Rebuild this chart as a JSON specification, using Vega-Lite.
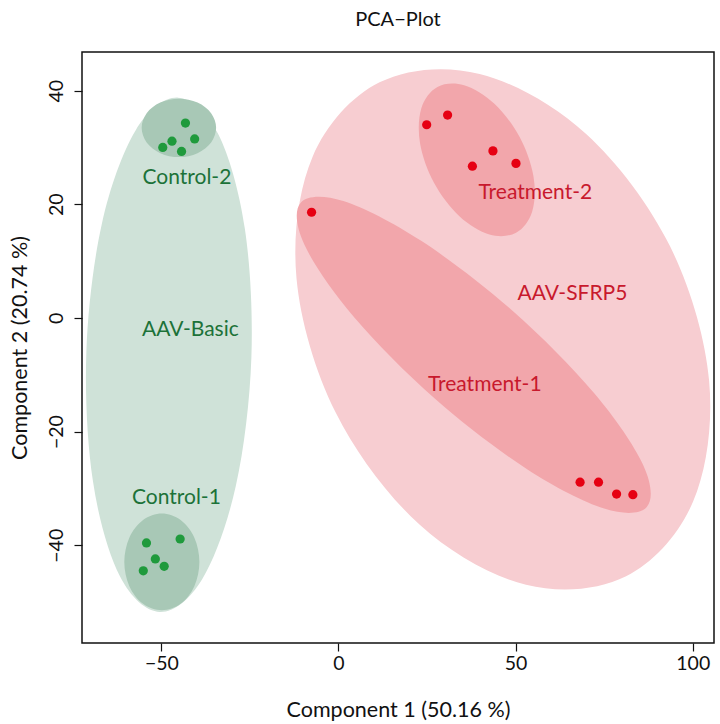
{
  "$schema": "https://vega.github.io/schema/vega-lite/v6.json",
  "width": 632,
  "height": 591,
  "autosize": {"type": "none"},
  "padding": {"left": 82, "top": 52, "right": 6, "bottom": 81},
  "config": {
    "font": "Lato",
    "view": {"stroke": "#111111", "strokeWidth": 1.5},
    "axis": {"grid": false, "domain": false, "tickColor": "#111111", "tickSize": 8, "tickWidth": 1.2, "labelColor": "#111111", "titleColor": "#111111", "labelFontSize": 19.5, "titleFontSize": 21.5, "titleFontWeight": "normal"}
  },
  "title": {"text": "PCA−Plot", "fontSize": 20, "fontWeight": "normal", "color": "#111111", "anchor": "middle", "offset": 22},
  "datasets": {
    "ellipses": [
      {"e": "AAV-Basic", "lvl": "big", "i": 0, "x": -50.42, "y": -51.73},
      {"e": "AAV-Basic", "lvl": "big", "i": 1, "x": -38.44, "y": -45.93},
      {"e": "AAV-Basic", "lvl": "big", "i": 2, "x": -28.97, "y": -29.55},
      {"e": "AAV-Basic", "lvl": "big", "i": 3, "x": -24.59, "y": -6.99},
      {"e": "AAV-Basic", "lvl": "big", "i": 4, "x": -26.43, "y": 15.70},
      {"e": "AAV-Basic", "lvl": "big", "i": 5, "x": -34.03, "y": 32.44},
      {"e": "AAV-Basic", "lvl": "big", "i": 6, "x": -45.34, "y": 38.77},
      {"e": "AAV-Basic", "lvl": "big", "i": 7, "x": -57.32, "y": 32.95},
      {"e": "AAV-Basic", "lvl": "big", "i": 8, "x": -66.79, "y": 16.58},
      {"e": "AAV-Basic", "lvl": "big", "i": 9, "x": -71.17, "y": -5.97},
      {"e": "AAV-Basic", "lvl": "big", "i": 10, "x": -69.33, "y": -28.67},
      {"e": "AAV-Basic", "lvl": "big", "i": 11, "x": -61.73, "y": -45.41},
      {"e": "AAV-SFRP5", "lvl": "big", "i": 0, "x": 81.18, "y": -45.45},
      {"e": "AAV-SFRP5", "lvl": "big", "i": 1, "x": 52.93, "y": -46.95},
      {"e": "AAV-SFRP5", "lvl": "big", "i": 2, "x": 22.94, "y": -36.40},
      {"e": "AAV-SFRP5", "lvl": "big", "i": 3, "x": -0.79, "y": -16.63},
      {"e": "AAV-SFRP5", "lvl": "big", "i": 4, "x": -11.86, "y": 7.05},
      {"e": "AAV-SFRP5", "lvl": "big", "i": 5, "x": -7.33, "y": 28.32},
      {"e": "AAV-SFRP5", "lvl": "big", "i": 6, "x": 11.59, "y": 41.46},
      {"e": "AAV-SFRP5", "lvl": "big", "i": 7, "x": 39.84, "y": 42.95},
      {"e": "AAV-SFRP5", "lvl": "big", "i": 8, "x": 69.83, "y": 32.41},
      {"e": "AAV-SFRP5", "lvl": "big", "i": 9, "x": 93.56, "y": 12.64},
      {"e": "AAV-SFRP5", "lvl": "big", "i": 10, "x": 104.62, "y": -11.05},
      {"e": "AAV-SFRP5", "lvl": "big", "i": 11, "x": 100.10, "y": -32.31},
      {"e": "Control-2", "lvl": "small", "i": 0, "x": -34.54, "y": 33.45},
      {"e": "Control-2", "lvl": "small", "i": 1, "x": -35.95, "y": 36.02},
      {"e": "Control-2", "lvl": "small", "i": 2, "x": -39.79, "y": 37.90},
      {"e": "Control-2", "lvl": "small", "i": 3, "x": -45.05, "y": 38.59},
      {"e": "Control-2", "lvl": "small", "i": 4, "x": -50.31, "y": 37.90},
      {"e": "Control-2", "lvl": "small", "i": 5, "x": -54.15, "y": 36.02},
      {"e": "Control-2", "lvl": "small", "i": 6, "x": -55.56, "y": 33.45},
      {"e": "Control-2", "lvl": "small", "i": 7, "x": -54.15, "y": 30.88},
      {"e": "Control-2", "lvl": "small", "i": 8, "x": -50.31, "y": 29.00},
      {"e": "Control-2", "lvl": "small", "i": 9, "x": -45.05, "y": 28.31},
      {"e": "Control-2", "lvl": "small", "i": 10, "x": -39.79, "y": 29.00},
      {"e": "Control-2", "lvl": "small", "i": 11, "x": -35.95, "y": 30.88},
      {"e": "Control-1", "lvl": "small", "i": 0, "x": -39.26, "y": -42.94},
      {"e": "Control-1", "lvl": "small", "i": 1, "x": -40.68, "y": -38.68},
      {"e": "Control-1", "lvl": "small", "i": 2, "x": -44.56, "y": -35.57},
      {"e": "Control-1", "lvl": "small", "i": 3, "x": -49.86, "y": -34.43},
      {"e": "Control-1", "lvl": "small", "i": 4, "x": -55.16, "y": -35.57},
      {"e": "Control-1", "lvl": "small", "i": 5, "x": -59.04, "y": -38.68},
      {"e": "Control-1", "lvl": "small", "i": 6, "x": -60.46, "y": -42.94},
      {"e": "Control-1", "lvl": "small", "i": 7, "x": -59.04, "y": -47.20},
      {"e": "Control-1", "lvl": "small", "i": 8, "x": -55.16, "y": -50.31},
      {"e": "Control-1", "lvl": "small", "i": 9, "x": -49.86, "y": -51.45},
      {"e": "Control-1", "lvl": "small", "i": 10, "x": -44.56, "y": -50.31},
      {"e": "Control-1", "lvl": "small", "i": 11, "x": -40.68, "y": -47.20},
      {"e": "Treatment-2", "lvl": "small", "i": 0, "x": 50.14, "y": 14.99},
      {"e": "Treatment-2", "lvl": "small", "i": 1, "x": 42.61, "y": 14.68},
      {"e": "Treatment-2", "lvl": "small", "i": 2, "x": 34.13, "y": 17.90},
      {"e": "Treatment-2", "lvl": "small", "i": 3, "x": 26.96, "y": 23.78},
      {"e": "Treatment-2", "lvl": "small", "i": 4, "x": 23.02, "y": 30.74},
      {"e": "Treatment-2", "lvl": "small", "i": 5, "x": 23.39, "y": 36.92},
      {"e": "Treatment-2", "lvl": "small", "i": 6, "x": 27.93, "y": 40.66},
      {"e": "Treatment-2", "lvl": "small", "i": 7, "x": 35.46, "y": 40.97},
      {"e": "Treatment-2", "lvl": "small", "i": 8, "x": 43.94, "y": 37.75},
      {"e": "Treatment-2", "lvl": "small", "i": 9, "x": 51.10, "y": 31.87},
      {"e": "Treatment-2", "lvl": "small", "i": 10, "x": 55.05, "y": 24.90},
      {"e": "Treatment-2", "lvl": "small", "i": 11, "x": 54.68, "y": 18.73},
      {"e": "Treatment-1", "lvl": "small", "i": 0, "x": 87.03, "y": -33.26},
      {"e": "Treatment-1", "lvl": "small", "i": 1, "x": 75.00, "y": -33.54},
      {"e": "Treatment-1", "lvl": "small", "i": 2, "x": 53.14, "y": -26.57},
      {"e": "Treatment-1", "lvl": "small", "i": 3, "x": 27.25, "y": -14.22},
      {"e": "Treatment-1", "lvl": "small", "i": 4, "x": 4.30, "y": 0.20},
      {"e": "Treatment-1", "lvl": "small", "i": 5, "x": -9.57, "y": 12.83},
      {"e": "Treatment-1", "lvl": "small", "i": 6, "x": -10.66, "y": 20.29},
      {"e": "Treatment-1", "lvl": "small", "i": 7, "x": 1.37, "y": 20.58},
      {"e": "Treatment-1", "lvl": "small", "i": 8, "x": 23.23, "y": 13.61},
      {"e": "Treatment-1", "lvl": "small", "i": 9, "x": 49.12, "y": 1.26},
      {"e": "Treatment-1", "lvl": "small", "i": 10, "x": 72.07, "y": -13.17},
      {"e": "Treatment-1", "lvl": "small", "i": 11, "x": 85.94, "y": -25.80}
    ],
    "samples": [
      {"group": "Control", "cluster": "Control-2", "x": -43.2, "y": 34.3},
      {"group": "Control", "cluster": "Control-2", "x": -40.6, "y": 31.5},
      {"group": "Control", "cluster": "Control-2", "x": -47.0, "y": 31.1},
      {"group": "Control", "cluster": "Control-2", "x": -49.6, "y": 30.0},
      {"group": "Control", "cluster": "Control-2", "x": -44.3, "y": 29.3},
      {"group": "Control", "cluster": "Control-1", "x": -54.2, "y": -39.6},
      {"group": "Control", "cluster": "Control-1", "x": -44.7, "y": -38.9},
      {"group": "Control", "cluster": "Control-1", "x": -51.7, "y": -42.4},
      {"group": "Control", "cluster": "Control-1", "x": -49.2, "y": -43.7},
      {"group": "Control", "cluster": "Control-1", "x": -55.1, "y": -44.5},
      {"group": "Treatment", "cluster": "Treatment-2", "x": 30.8, "y": 35.7},
      {"group": "Treatment", "cluster": "Treatment-2", "x": 24.9, "y": 34.0},
      {"group": "Treatment", "cluster": "Treatment-2", "x": 43.6, "y": 29.4},
      {"group": "Treatment", "cluster": "Treatment-2", "x": 50.1, "y": 27.2},
      {"group": "Treatment", "cluster": "Treatment-2", "x": 37.8, "y": 26.7},
      {"group": "Treatment", "cluster": "Treatment-1", "x": -7.6, "y": 18.6},
      {"group": "Treatment", "cluster": "Treatment-1", "x": 68.2, "y": -28.9},
      {"group": "Treatment", "cluster": "Treatment-1", "x": 73.4, "y": -28.9},
      {"group": "Treatment", "cluster": "Treatment-1", "x": 78.5, "y": -31.0},
      {"group": "Treatment", "cluster": "Treatment-1", "x": 83.1, "y": -31.1}
    ],
    "labels": [
      {"label": "Control-2", "group": "Control", "x": -42.79, "y": 24.57},
      {"label": "Control-1", "group": "Control", "x": -45.76, "y": -31.73},
      {"label": "AAV-Basic", "group": "Control", "x": -41.8, "y": -2.17},
      {"label": "Treatment-2", "group": "Treatment", "x": 55.57, "y": 21.92},
      {"label": "AAV-SFRP5", "group": "Treatment", "x": 66.03, "y": 4.16},
      {"label": "Treatment-1", "group": "Treatment", "x": 41.29, "y": -11.84}
    ]
  },
  "encoding": {
    "x": {"field": "x", "type": "quantitative", "scale": {"domain": [-72.4, 106.0], "nice": false, "zero": false},
          "axis": {"values": [-50, 0, 50, 100], "title": "Component 1 (50.16 %)", "labelPadding": 3, "titlePadding": 27}},
    "y": {"field": "y", "type": "quantitative", "scale": {"domain": [-57.2, 46.8], "nice": false, "zero": false},
          "axis": {"values": [-40, -20, 0, 20, 40], "title": "Component 2 (20.74 %)", "labelAngle": -90, "labelAlign": "center", "labelBaseline": "bottom", "labelPadding": 8, "titlePadding": 15}}
  },
  "layer": [
    {
      "data": {"name": "ellipses"},
      "transform": [{"filter": "datum.lvl === 'big'"}],
      "mark": {"type": "line", "filled": true, "interpolate": "cardinal-closed", "strokeWidth": 0},
      "encoding": {
        "order": {"field": "i", "type": "quantitative"},
        "color": {"field": "e", "type": "nominal", "legend": null,
                  "scale": {"domain": ["AAV-Basic", "AAV-SFRP5", "Control-1", "Control-2", "Treatment-1", "Treatment-2"],
                            "range": ["#cfe2d8", "#f7cdd1", "#a8c8b6", "#a8c8b6", "#f2a6ab", "#f2a6ab"]}}
      }
    },
    {
      "data": {"name": "ellipses"},
      "transform": [{"filter": "datum.lvl === 'small'"}],
      "mark": {"type": "line", "filled": true, "interpolate": "cardinal-closed", "strokeWidth": 0},
      "encoding": {
        "order": {"field": "i", "type": "quantitative"},
        "color": {"field": "e", "type": "nominal", "legend": null,
                  "scale": {"domain": ["AAV-Basic", "AAV-SFRP5", "Control-1", "Control-2", "Treatment-1", "Treatment-2"],
                            "range": ["#cfe2d8", "#f7cdd1", "#a8c8b6", "#a8c8b6", "#f2a6ab", "#f2a6ab"]}}
      }
    },
    {
      "data": {"name": "samples"},
      "mark": {"type": "point", "filled": true, "opacity": 1, "size": 85, "shape": "circle"},
      "encoding": {
        "fill": {"field": "group", "type": "nominal", "legend": null,
                 "scale": {"domain": ["Control", "Treatment"], "range": ["#1f9a3c", "#e60012"]}}
      }
    },
    {
      "data": {"name": "labels"},
      "mark": {"type": "text", "fontSize": 21, "align": "center", "baseline": "middle"},
      "encoding": {
        "text": {"field": "label"},
        "fill": {"field": "group", "type": "nominal", "legend": null,
                 "scale": {"domain": ["Control", "Treatment"], "range": ["#1c7238", "#c8192d"]}}
      }
    }
  ],
  "resolve": {"scale": {"color": "independent", "fill": "independent"}}
}
